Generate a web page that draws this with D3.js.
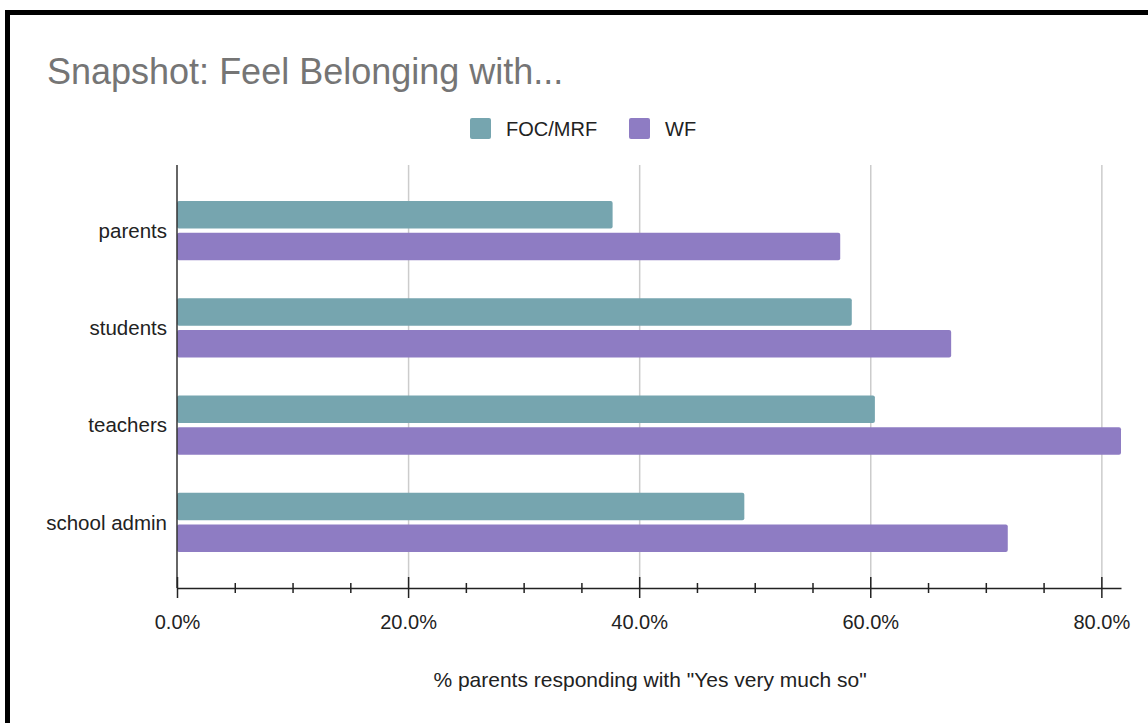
<!DOCTYPE html>
<html>
<head>
<meta charset="utf-8">
<script src="https://cdn.jsdelivr.net/npm/d3@7"></script>
<style>
  body { margin: 0; background: #fff; }
  text { font-family: 'Liberation Sans', Arial, sans-serif; }
</style>
</head>
<body>
<div id="chart"></div>
<script>
const categories = ['parents', 'students', 'teachers', 'school admin']
const seriesNames = ['FOC/MRF', 'WF']
const focValues = [37.7, 58.4, 60.4, 49.1]
const wfValues = [57.4, 67.0, 81.7, 71.9]
const majorTicks = [0, 20, 40, 60, 80]
const minorTicks = [5, 10, 15, 25, 30, 35, 45, 50, 55, 65, 70, 75]
const colors = ['#76a5af', '#8e7cc3']

const margin = { top: 165, right: 27, bottom: 135, left: 177 }
const width = 1148 - margin.left - margin.right
const height = 723 - margin.top - margin.bottom

const root = d3
  .select('#chart')
  .append('svg')
  .attr('width', 1148)
  .attr('height', 723)

// black frame around the screenshot
root
  .append('rect')
  .attr('x', 7.5)
  .attr('y', 12.5)
  .attr('width', 1200)
  .attr('height', 800)
  .attr('fill', 'none')
  .attr('stroke', '#000')
  .attr('stroke-width', 5)

root
  .append('text')
  .attr('x', 47)
  .attr('y', 84)
  .attr('font-size', 36)
  .attr('fill', '#757575')
  .text('Snapshot: Feel Belonging with...')

// legend
const legend = root
  .selectAll('.legend')
  .data(seriesNames)
  .enter()
  .append('g')
  .attr('class', 'legend')
  .attr('transform', (d, i) => `translate(${[470, 629][i]}, 118)`)

legend
  .append('rect')
  .attr('width', 21)
  .attr('height', 21)
  .attr('rx', 2)
  .attr('fill', (d, i) => colors[i])

legend
  .append('text')
  .attr('x', 36)
  .attr('y', 18)
  .attr('font-size', 20)
  .attr('fill', '#222')
  .text(d => d)

const svg = root
  .append('g')
  .attr('transform', `translate(${margin.left}, ${margin.top})`)

const xPositionScale = d3.scaleLinear().domain([0, 81.7]).range([0, width])

const yPositionScale = d3
  .scaleBand()
  .domain(categories)
  .range([0, height])
  .paddingInner(0.39)
  .paddingOuter(0.37)

const innerScale = d3
  .scaleBand()
  .domain(seriesNames)
  .range([0, yPositionScale.bandwidth()])
  .paddingInner(0.13)

// gridlines
const grid = svg
  .append('g')
  .attr('class', 'grid')
  .attr('transform', `translate(0, ${height})`)
  .call(
    d3
      .axisBottom(xPositionScale)
      .tickValues(majorTicks.slice(1))
      .tickSize(-height)
      .tickFormat('')
  )
grid.select('.domain').remove()
grid.selectAll('line').attr('stroke', '#cccccc').attr('stroke-width', 1.5)

// bars
const rows = categories.map((c, i) => ({
  category: c,
  values: [focValues[i], wfValues[i]]
}))

const groups = svg
  .selectAll('.group')
  .data(rows)
  .enter()
  .append('g')
  .attr('class', 'group')
  .attr('transform', d => `translate(0, ${yPositionScale(d.category)})`)

groups
  .selectAll('rect')
  .data(d => d.values.map((v, i) => ({ series: seriesNames[i], value: v, i: i })))
  .enter()
  .append('rect')
  .attr('x', 0)
  .attr('y', d => innerScale(d.series))
  .attr('width', d => xPositionScale(d.value))
  .attr('height', innerScale.bandwidth())
  .attr('rx', 2)
  .attr('fill', d => colors[d.i])

// left axis line
svg
  .append('line')
  .attr('x1', 0)
  .attr('x2', 0)
  .attr('y1', 0)
  .attr('y2', height)
  .attr('stroke', '#333')
  .attr('stroke-width', 1.5)

// category labels
svg
  .selectAll('.cat-label')
  .data(categories)
  .enter()
  .append('text')
  .attr('class', 'cat-label')
  .attr('x', -10)
  .attr('y', d => yPositionScale(d) + yPositionScale.bandwidth() / 2)
  .attr('dy', '0.35em')
  .attr('text-anchor', 'end')
  .attr('font-size', 20.5)
  .attr('fill', '#222')
  .text(d => d)

// x axis with minor ticks
const minorAxis = svg
  .append('g')
  .attr('class', 'axis minor')
  .attr('transform', `translate(0, ${height})`)
  .call(d3.axisBottom(xPositionScale).tickValues(minorTicks).tickFormat(''))
minorAxis.select('.domain').remove()
minorAxis
  .selectAll('line')
  .attr('y1', -5)
  .attr('y2', 5)
  .attr('stroke', '#222')
  .attr('stroke-width', 1.5)

const xAxis = svg
  .append('g')
  .attr('class', 'axis x-axis')
  .attr('transform', `translate(0, ${height})`)
  .call(
    d3
      .axisBottom(xPositionScale)
      .tickValues(majorTicks)
      .tickSizeOuter(0)
      .tickFormat(d => d.toFixed(1) + '%')
  )
xAxis.select('.domain').attr('stroke', '#222').attr('stroke-width', 1.5)
xAxis
  .selectAll('line')
  .attr('y1', -11)
  .attr('y2', 10)
  .attr('stroke', '#222')
  .attr('stroke-width', 1.5)
xAxis
  .selectAll('text')
  .attr('y', 41)
  .attr('dy', 0)
  .attr('font-size', 20)
  .attr('font-family', "'Liberation Sans', Arial, sans-serif")
  .attr('fill', '#222')

svg
  .append('text')
  .attr('x', 473)
  .attr('y', height + 98.5)
  .attr('text-anchor', 'middle')
  .attr('font-size', 21)
  .attr('fill', '#222')
  .text('% parents responding with "Yes very much so"')
</script>
</body>
</html>
